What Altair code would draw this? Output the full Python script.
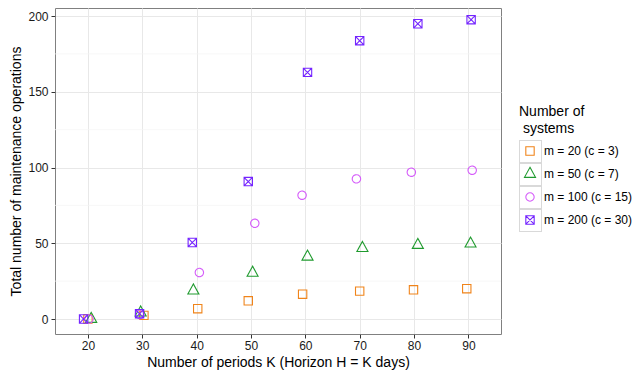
import altair as alt
import pandas as pd

# ---- data ----
K = [20, 30, 40, 50, 60, 70, 80, 90]
groups = ["m = 20 (c = 3)", "m = 50 (c = 7)", "m = 100 (c = 15)", "m = 200 (c = 30)"]

# horizontal (jittered) positions of each point
x_m20 = [20.0, 30.3, 40.2, 49.5, 59.5, 70.0, 79.9, 89.7]
x_m50 = [20.6, 29.7, 39.4, 50.3, 60.4, 70.5, 80.7, 90.4]
x_m100 = [20.2, 29.5, 40.5, 50.7, 59.4, 69.4, 79.5, 90.7]
x_m200 = [19.2, 29.5, 39.2, 49.5, 60.4, 70.0, 80.7, 90.5]

# total number of maintenance operations
ops_m20 = [0, 2.4, 6.8, 12, 16.4, 18.4, 19.3, 20]
ops_m50 = [0, 4.2, 18.7, 30.4, 41.1, 46.8, 48.8, 49.7]
ops_m100 = [0, 3.0, 30.7, 63.2, 81.7, 92.5, 96.9, 98.2]
ops_m200 = [0, 3.5, 50.5, 90.7, 162.8, 183.7, 194.9, 197.6]

y_ticks = [0, 50, 100, 150, 200]
y_minor = [25, 75, 125, 175]

colors = ["#F0841A", "#1F9A2E", "#D55CFA", "#7424FF"]
shapes = [
    "M-1,-1H1V1H-1Z",
    "M0,-1.6L1.32,0.8L-1.32,0.8Z",
    "circle",
    "M-1,-1H1V1H-1Z M-1,-1L1,1 M-1,1L1,-1",
]

xs = [x_m20, x_m50, x_m100, x_m200]
ys = [ops_m20, ops_m50, ops_m100, ops_m200]
rows = []
for g, xv, yv in zip(groups, xs, ys):
    for k, xx, yy in zip(K, xv, yv):
        rows.append({"K": k, "x": xx, "ops": yy, "group": g, "box": g})
df = pd.DataFrame(rows)
minor_df = pd.DataFrame({"minor": y_minor})

FONT = "Liberation Sans"
X_TITLE = "Number of periods K (Horizon H = K days)"
Y_TITLE = "Total number of maintenance operations"

xscale = alt.Scale(domain=[13.94, 96.0], nice=False, zero=False)
yscale = alt.Scale(domain=[-9.9, 205.3], nice=False, zero=False)
yaxis = alt.Axis(values=y_ticks, title=Y_TITLE)

minor = alt.Chart(minor_df).mark_rule(color="#F3F3F3", strokeWidth=0.7).encode(
    y=alt.Y("minor:Q", scale=yscale, axis=yaxis)
)

main_legend = alt.Legend(
    title=["Number of", "\u200b\u00a0systems"],
    orient="none", legendX=464, legendY=97,
    titleFontSize=14, titleFontWeight="normal", titleColor="#000000",
    titleFont=FONT, titleLineHeight=16.5, titlePadding=4,
    labelFontSize=12, labelFont=FONT, labelColor="#000000",
    symbolSize=70, symbolStrokeWidth=1.1, symbolFillColor="transparent",
    clipHeight=23, rowPadding=0, symbolOffset=5, labelOffset=8,
)

box_legend = alt.Legend(
    title=None, orient="none", legendX=464, legendY=132,
    symbolType="square", symbolSize=484, symbolStrokeColor="#CCCCCC",
    symbolStrokeWidth=1, symbolFillColor="transparent", symbolOpacity=1,
    labelExpr="''", labelFontSize=2, clipHeight=23, rowPadding=0,
)

points = alt.Chart(df).mark_point(filled=False, size=70, strokeWidth=1.1, opacity=1).encode(
    x=alt.X("x:Q", scale=xscale, axis=alt.Axis(values=K, title=X_TITLE)),
    y=alt.Y("ops:Q", scale=yscale, axis=yaxis),
    color=alt.Color("group:N", scale=alt.Scale(domain=groups, range=colors), legend=main_legend),
    shape=alt.Shape("group:N", scale=alt.Scale(domain=groups, range=shapes), legend=main_legend),
    strokeDash=alt.StrokeDash("box:N", scale=alt.Scale(range=[[1, 0], [1, 0], [1, 0], [1, 0]]),
                              legend=box_legend),
)

chart = alt.layer(minor, points).properties(
    width=446, height=326,
    autosize=alt.AutoSizeParams(type="none"),
    padding={"left": 47, "top": 0, "right": 131, "bottom": 40},
).configure_view(
    stroke="#808080", strokeWidth=1
).configure_axis(
    domain=False, grid=True, gridColor="#E8E8E8", gridWidth=1,
    ticks=True, tickColor="#333333", tickSize=4, tickWidth=1,
    labelFont=FONT, labelFontSize=12, labelColor="#1a1a1a", labelPadding=2,
    titleFont=FONT, titleFontSize=14, titleFontWeight="normal", titleColor="#000000",
).configure_axisY(
    titlePadding=4, labelPadding=3
).configure_axisX(
    titlePadding=4
)

chart.save("out.html", embed_options={"renderer": "svg", "actions": False})
